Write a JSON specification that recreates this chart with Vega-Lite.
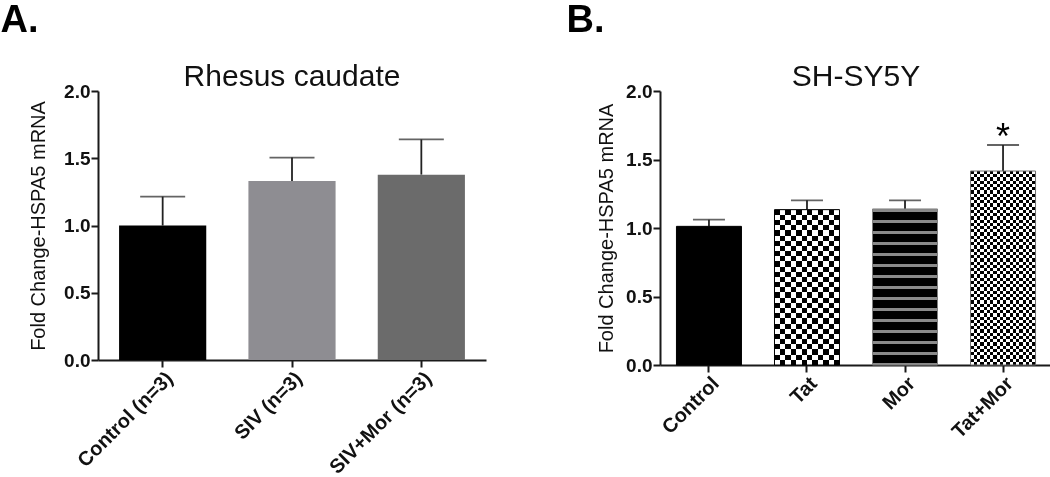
{
  "$schema": "https://vega.github.io/schema/vega-lite/v6.json",
  "background": "white",
  "padding": {"left": 0, "top": 2, "right": 0, "bottom": 0},
  "autosize": {"type": "pad"},
  "spacing": 80,
  "config": {
    "font": "Liberation Sans",
    "view": {"stroke": null},
    "axis": {
      "domainColor": "#1a1a1a", "domainWidth": 2, "tickColor": "#1a1a1a", "tickWidth": 2, "tickSize": 7,
      "labelFont": "Liberation Sans", "labelFontWeight": "bold", "labelFontSize": 19, "labelColor": "#111111",
      "titleFont": "Liberation Sans", "titleFontWeight": "normal", "titleFontSize": 20, "titleColor": "#111111",
      "grid": false
    },
    "axisX": {"labelFontSize": 20}
  },
  "datasets": {
    "a": [
      {"group": "Control (n=3)", "mean": 1.0, "upper": 1.215},
      {"group": "SIV (n=3)", "mean": 1.33, "upper": 1.505},
      {"group": "SIV+Mor (n=3)", "mean": 1.378, "upper": 1.64}
    ],
    "b": [
      {"group": "Control", "mean": 1.012, "upper": 1.061, "sig": ""},
      {"group": "Tat", "mean": 1.134, "upper": 1.202, "sig": ""},
      {"group": "Mor", "mean": 1.139, "upper": 1.202, "sig": ""},
      {"group": "Tat+Mor", "mean": 1.416, "upper": 1.606, "sig": "*"}
    ]
  },
  "hconcat": [
    {
      "title": {"text": "A.", "anchor": "start", "frame": "bounds", "dx": -28, "fontSize": 38, "fontWeight": "bold", "baseline": "alphabetic", "offset": -8, "color": "#000000", "font": "Liberation Sans"},
      "vconcat": [
        {
          "title": {"text": "Rhesus caudate", "anchor": "middle", "frame": "group", "fontSize": 30, "fontWeight": "normal", "baseline": "alphabetic", "offset": -34, "color": "#111111", "font": "Liberation Sans"},
          "width": 388,
          "height": 269,
          "data": {"name": "a"},
          "encoding": {
            "x": {"field": "group", "type": "nominal", "scale": {"domain": ["Control (n=3)", "SIV (n=3)", "SIV+Mor (n=3)"], "paddingInner": 0.326, "paddingOuter": 0.163}, "axis": {"title": null, "labelAngle": -45, "labelPadding": 1}},
            "y": {"field": "mean", "type": "quantitative", "scale": {"domain": [0, 2], "nice": false}, "axis": {"values": [0, 0.5, 1, 1.5, 2], "format": ".1f", "title": "Fold Change-HSPA5 mRNA", "titlePadding": 15, "labelPadding": 1}}
          },
          "layer": [
            {"mark": {"type": "rule", "color": "#222222", "strokeWidth": 1.8}, "encoding": {"y2": {"field": "upper"}}},
            {"mark": {"type": "tick", "orient": "horizontal", "size": 45, "thickness": 1.8, "color": "#222222"},
             "encoding": {"y": {"field": "upper", "type": "quantitative", "scale": {"domain": [0, 2], "nice": false}, "axis": {"values": [0, 0.5, 1, 1.5, 2], "format": ".1f", "title": "Fold Change-HSPA5 mRNA", "titlePadding": 15, "labelPadding": 1}}}},
            {"mark": {"type": "bar"}, "encoding": {"color": {"field": "group", "type": "nominal", "scale": {"domain": ["Control (n=3)", "SIV (n=3)", "SIV+Mor (n=3)"], "range": ["#000000", "#8e8d92", "#6b6b6b"]}, "legend": null}}}
          ]
        }
      ]
    },
    {
      "title": {"text": "B.", "anchor": "start", "frame": "bounds", "dx": -30, "fontSize": 38, "fontWeight": "bold", "baseline": "alphabetic", "offset": -8, "color": "#000000", "font": "Liberation Sans"},
      "vconcat": [
        {
          "title": {"text": "SH-SY5Y", "anchor": "middle", "frame": "group", "fontSize": 30, "fontWeight": "normal", "baseline": "alphabetic", "offset": -34, "color": "#111111", "font": "Liberation Sans"},
          "width": 392,
          "height": 274,
          "data": {"name": "b"},
          "encoding": {
            "x": {"field": "group", "type": "nominal", "scale": {"domain": ["Control", "Tat", "Mor", "Tat+Mor"], "paddingInner": 0.337, "paddingOuter": 0.168}, "axis": {"title": null, "labelAngle": -45, "labelPadding": 1}},
            "y": {"field": "mean", "type": "quantitative", "scale": {"domain": [0, 2], "nice": false}, "axis": {"values": [0, 0.5, 1, 1.5, 2], "format": ".1f", "title": "Fold Change-HSPA5 mRNA", "titlePadding": 9, "labelPadding": 1}}
          },
          "layer": [
            {"mark": {"type": "rule", "color": "#222222", "strokeWidth": 1.8}, "encoding": {"y2": {"field": "upper"}}},
            {"mark": {"type": "tick", "orient": "horizontal", "size": 32, "thickness": 1.8, "color": "#222222"},
             "encoding": {"y": {"field": "upper", "type": "quantitative", "scale": {"domain": [0, 2], "nice": false}, "axis": {"values": [0, 0.5, 1, 1.5, 2], "format": ".1f", "title": "Fold Change-HSPA5 mRNA", "titlePadding": 9, "labelPadding": 1}}}},
            {"transform": [{"filter": "datum.group === 'Control'"}], "mark": {"type": "bar", "color": "#000000"}},
            {"transform": [{"filter": "datum.group === 'Tat'"}], "mark": {"type": "bar", "color": {"gradient": "linear", "x1": 0, "y1": 0, "x2": 1, "y2": 0, "stops": [
              {"offset":0,"color":"#fff"},{"offset":0.0833,"color":"#fff"},{"offset":0.0833,"color":"#000"},{"offset":0.1667,"color":"#000"},{"offset":0.1667,"color":"#fff"},{"offset":0.25,"color":"#fff"},{"offset":0.25,"color":"#000"},{"offset":0.3333,"color":"#000"},{"offset":0.3333,"color":"#fff"},{"offset":0.4167,"color":"#fff"},{"offset":0.4167,"color":"#000"},{"offset":0.5,"color":"#000"},{"offset":0.5,"color":"#fff"},{"offset":0.5833,"color":"#fff"},{"offset":0.5833,"color":"#000"},{"offset":0.6667,"color":"#000"},{"offset":0.6667,"color":"#fff"},{"offset":0.75,"color":"#fff"},{"offset":0.75,"color":"#000"},{"offset":0.8333,"color":"#000"},{"offset":0.8333,"color":"#fff"},{"offset":0.9167,"color":"#fff"},{"offset":0.9167,"color":"#000"},{"offset":1,"color":"#000"}
            ]}}},
            {"transform": [{"filter": "datum.group === 'Tat'"}], "mark": {"type": "bar", "blend": "difference", "color": {"gradient": "linear", "x1": 0, "y1": 0, "x2": 0, "y2": 1, "stops": [
              {"offset":0,"color":"#fff"},{"offset":0.0333,"color":"#fff"},{"offset":0.0333,"color":"#000"},{"offset":0.0667,"color":"#000"},{"offset":0.0667,"color":"#fff"},{"offset":0.1,"color":"#fff"},{"offset":0.1,"color":"#000"},{"offset":0.1333,"color":"#000"},{"offset":0.1333,"color":"#fff"},{"offset":0.1667,"color":"#fff"},{"offset":0.1667,"color":"#000"},{"offset":0.2,"color":"#000"},{"offset":0.2,"color":"#fff"},{"offset":0.2333,"color":"#fff"},{"offset":0.2333,"color":"#000"},{"offset":0.2667,"color":"#000"},{"offset":0.2667,"color":"#fff"},{"offset":0.3,"color":"#fff"},{"offset":0.3,"color":"#000"},{"offset":0.3333,"color":"#000"},{"offset":0.3333,"color":"#fff"},{"offset":0.3667,"color":"#fff"},{"offset":0.3667,"color":"#000"},{"offset":0.4,"color":"#000"},{"offset":0.4,"color":"#fff"},{"offset":0.4333,"color":"#fff"},{"offset":0.4333,"color":"#000"},{"offset":0.4667,"color":"#000"},{"offset":0.4667,"color":"#fff"},{"offset":0.5,"color":"#fff"},{"offset":0.5,"color":"#000"},{"offset":0.5333,"color":"#000"},{"offset":0.5333,"color":"#fff"},{"offset":0.5667,"color":"#fff"},{"offset":0.5667,"color":"#000"},{"offset":0.6,"color":"#000"},{"offset":0.6,"color":"#fff"},{"offset":0.6333,"color":"#fff"},{"offset":0.6333,"color":"#000"},{"offset":0.6667,"color":"#000"},{"offset":0.6667,"color":"#fff"},{"offset":0.7,"color":"#fff"},{"offset":0.7,"color":"#000"},{"offset":0.7333,"color":"#000"},{"offset":0.7333,"color":"#fff"},{"offset":0.7667,"color":"#fff"},{"offset":0.7667,"color":"#000"},{"offset":0.8,"color":"#000"},{"offset":0.8,"color":"#fff"},{"offset":0.8333,"color":"#fff"},{"offset":0.8333,"color":"#000"},{"offset":0.8667,"color":"#000"},{"offset":0.8667,"color":"#fff"},{"offset":0.9,"color":"#fff"},{"offset":0.9,"color":"#000"},{"offset":0.9333,"color":"#000"},{"offset":0.9333,"color":"#fff"},{"offset":0.9667,"color":"#fff"},{"offset":0.9667,"color":"#000"},{"offset":1,"color":"#000"}
            ]}}},
            {"transform": [{"filter": "datum.group === 'Mor'"}], "mark": {"type": "bar", "color": {"gradient": "linear", "x1": 0, "y1": 0, "x2": 0, "y2": 1, "stops": [
              {"offset":0,"color":"#8a8a8a"},{"offset":0.0192,"color":"#8a8a8a"},{"offset":0.0192,"color":"#000"},{"offset":0.0705,"color":"#000"},{"offset":0.0705,"color":"#8a8a8a"},{"offset":0.0897,"color":"#8a8a8a"},{"offset":0.0897,"color":"#000"},{"offset":0.141,"color":"#000"},{"offset":0.141,"color":"#8a8a8a"},{"offset":0.1603,"color":"#8a8a8a"},{"offset":0.1603,"color":"#000"},{"offset":0.2115,"color":"#000"},{"offset":0.2115,"color":"#8a8a8a"},{"offset":0.2308,"color":"#8a8a8a"},{"offset":0.2308,"color":"#000"},{"offset":0.2821,"color":"#000"},{"offset":0.2821,"color":"#8a8a8a"},{"offset":0.3013,"color":"#8a8a8a"},{"offset":0.3013,"color":"#000"},{"offset":0.3526,"color":"#000"},{"offset":0.3526,"color":"#8a8a8a"},{"offset":0.3718,"color":"#8a8a8a"},{"offset":0.3718,"color":"#000"},{"offset":0.4231,"color":"#000"},{"offset":0.4231,"color":"#8a8a8a"},{"offset":0.4423,"color":"#8a8a8a"},{"offset":0.4423,"color":"#000"},{"offset":0.4936,"color":"#000"},{"offset":0.4936,"color":"#8a8a8a"},{"offset":0.5128,"color":"#8a8a8a"},{"offset":0.5128,"color":"#000"},{"offset":0.5641,"color":"#000"},{"offset":0.5641,"color":"#8a8a8a"},{"offset":0.5833,"color":"#8a8a8a"},{"offset":0.5833,"color":"#000"},{"offset":0.6346,"color":"#000"},{"offset":0.6346,"color":"#8a8a8a"},{"offset":0.6538,"color":"#8a8a8a"},{"offset":0.6538,"color":"#000"},{"offset":0.7051,"color":"#000"},{"offset":0.7051,"color":"#8a8a8a"},{"offset":0.7244,"color":"#8a8a8a"},{"offset":0.7244,"color":"#000"},{"offset":0.7756,"color":"#000"},{"offset":0.7756,"color":"#8a8a8a"},{"offset":0.7949,"color":"#8a8a8a"},{"offset":0.7949,"color":"#000"},{"offset":0.8462,"color":"#000"},{"offset":0.8462,"color":"#8a8a8a"},{"offset":0.8654,"color":"#8a8a8a"},{"offset":0.8654,"color":"#000"},{"offset":0.9167,"color":"#000"},{"offset":0.9167,"color":"#8a8a8a"},{"offset":0.9359,"color":"#8a8a8a"},{"offset":0.9359,"color":"#000"},{"offset":0.9872,"color":"#000"},{"offset":0.9872,"color":"#8a8a8a"},{"offset":1,"color":"#8a8a8a"}
            ]}}},
            {"transform": [{"filter": "datum.group === 'Tat+Mor'"}], "mark": {"type": "bar", "color": {"gradient": "linear", "x1": 0, "y1": 0, "x2": 1, "y2": 0, "stops": [
              {"offset":0,"color":"#fff"},{"offset":0.05,"color":"#fff"},{"offset":0.05,"color":"#000"},{"offset":0.1,"color":"#000"},{"offset":0.1,"color":"#fff"},{"offset":0.15,"color":"#fff"},{"offset":0.15,"color":"#000"},{"offset":0.2,"color":"#000"},{"offset":0.2,"color":"#fff"},{"offset":0.25,"color":"#fff"},{"offset":0.25,"color":"#000"},{"offset":0.3,"color":"#000"},{"offset":0.3,"color":"#fff"},{"offset":0.35,"color":"#fff"},{"offset":0.35,"color":"#000"},{"offset":0.4,"color":"#000"},{"offset":0.4,"color":"#fff"},{"offset":0.45,"color":"#fff"},{"offset":0.45,"color":"#000"},{"offset":0.5,"color":"#000"},{"offset":0.5,"color":"#fff"},{"offset":0.55,"color":"#fff"},{"offset":0.55,"color":"#000"},{"offset":0.6,"color":"#000"},{"offset":0.6,"color":"#fff"},{"offset":0.65,"color":"#fff"},{"offset":0.65,"color":"#000"},{"offset":0.7,"color":"#000"},{"offset":0.7,"color":"#fff"},{"offset":0.75,"color":"#fff"},{"offset":0.75,"color":"#000"},{"offset":0.8,"color":"#000"},{"offset":0.8,"color":"#fff"},{"offset":0.85,"color":"#fff"},{"offset":0.85,"color":"#000"},{"offset":0.9,"color":"#000"},{"offset":0.9,"color":"#fff"},{"offset":0.95,"color":"#fff"},{"offset":0.95,"color":"#000"},{"offset":1,"color":"#000"}
            ]}}},
            {"transform": [{"filter": "datum.group === 'Tat+Mor'"}], "mark": {"type": "bar", "blend": "difference", "color": {"gradient": "linear", "x1": 0, "y1": 0, "x2": 0, "y2": 1, "stops": [
              {"offset":0,"color":"#fff"},{"offset":0.0167,"color":"#fff"},{"offset":0.0167,"color":"#000"},{"offset":0.0333,"color":"#000"},{"offset":0.0333,"color":"#fff"},{"offset":0.05,"color":"#fff"},{"offset":0.05,"color":"#000"},{"offset":0.0667,"color":"#000"},{"offset":0.0667,"color":"#fff"},{"offset":0.0833,"color":"#fff"},{"offset":0.0833,"color":"#000"},{"offset":0.1,"color":"#000"},{"offset":0.1,"color":"#fff"},{"offset":0.1167,"color":"#fff"},{"offset":0.1167,"color":"#000"},{"offset":0.1333,"color":"#000"},{"offset":0.1333,"color":"#fff"},{"offset":0.15,"color":"#fff"},{"offset":0.15,"color":"#000"},{"offset":0.1667,"color":"#000"},{"offset":0.1667,"color":"#fff"},{"offset":0.1833,"color":"#fff"},{"offset":0.1833,"color":"#000"},{"offset":0.2,"color":"#000"},{"offset":0.2,"color":"#fff"},{"offset":0.2167,"color":"#fff"},{"offset":0.2167,"color":"#000"},{"offset":0.2333,"color":"#000"},{"offset":0.2333,"color":"#fff"},{"offset":0.25,"color":"#fff"},{"offset":0.25,"color":"#000"},{"offset":0.2667,"color":"#000"},{"offset":0.2667,"color":"#fff"},{"offset":0.2833,"color":"#fff"},{"offset":0.2833,"color":"#000"},{"offset":0.3,"color":"#000"},{"offset":0.3,"color":"#fff"},{"offset":0.3167,"color":"#fff"},{"offset":0.3167,"color":"#000"},{"offset":0.3333,"color":"#000"},{"offset":0.3333,"color":"#fff"},{"offset":0.35,"color":"#fff"},{"offset":0.35,"color":"#000"},{"offset":0.3667,"color":"#000"},{"offset":0.3667,"color":"#fff"},{"offset":0.3833,"color":"#fff"},{"offset":0.3833,"color":"#000"},{"offset":0.4,"color":"#000"},{"offset":0.4,"color":"#fff"},{"offset":0.4167,"color":"#fff"},{"offset":0.4167,"color":"#000"},{"offset":0.4333,"color":"#000"},{"offset":0.4333,"color":"#fff"},{"offset":0.45,"color":"#fff"},{"offset":0.45,"color":"#000"},{"offset":0.4667,"color":"#000"},{"offset":0.4667,"color":"#fff"},{"offset":0.4833,"color":"#fff"},{"offset":0.4833,"color":"#000"},{"offset":0.5,"color":"#000"},{"offset":0.5,"color":"#fff"},{"offset":0.5167,"color":"#fff"},{"offset":0.5167,"color":"#000"},{"offset":0.5333,"color":"#000"},{"offset":0.5333,"color":"#fff"},{"offset":0.55,"color":"#fff"},{"offset":0.55,"color":"#000"},{"offset":0.5667,"color":"#000"},{"offset":0.5667,"color":"#fff"},{"offset":0.5833,"color":"#fff"},{"offset":0.5833,"color":"#000"},{"offset":0.6,"color":"#000"},{"offset":0.6,"color":"#fff"},{"offset":0.6167,"color":"#fff"},{"offset":0.6167,"color":"#000"},{"offset":0.6333,"color":"#000"},{"offset":0.6333,"color":"#fff"},{"offset":0.65,"color":"#fff"},{"offset":0.65,"color":"#000"},{"offset":0.6667,"color":"#000"},{"offset":0.6667,"color":"#fff"},{"offset":0.6833,"color":"#fff"},{"offset":0.6833,"color":"#000"},{"offset":0.7,"color":"#000"},{"offset":0.7,"color":"#fff"},{"offset":0.7167,"color":"#fff"},{"offset":0.7167,"color":"#000"},{"offset":0.7333,"color":"#000"},{"offset":0.7333,"color":"#fff"},{"offset":0.75,"color":"#fff"},{"offset":0.75,"color":"#000"},{"offset":0.7667,"color":"#000"},{"offset":0.7667,"color":"#fff"},{"offset":0.7833,"color":"#fff"},{"offset":0.7833,"color":"#000"},{"offset":0.8,"color":"#000"},{"offset":0.8,"color":"#fff"},{"offset":0.8167,"color":"#fff"},{"offset":0.8167,"color":"#000"},{"offset":0.8333,"color":"#000"},{"offset":0.8333,"color":"#fff"},{"offset":0.85,"color":"#fff"},{"offset":0.85,"color":"#000"},{"offset":0.8667,"color":"#000"},{"offset":0.8667,"color":"#fff"},{"offset":0.8833,"color":"#fff"},{"offset":0.8833,"color":"#000"},{"offset":0.9,"color":"#000"},{"offset":0.9,"color":"#fff"},{"offset":0.9167,"color":"#fff"},{"offset":0.9167,"color":"#000"},{"offset":0.9333,"color":"#000"},{"offset":0.9333,"color":"#fff"},{"offset":0.95,"color":"#fff"},{"offset":0.95,"color":"#000"},{"offset":0.9667,"color":"#000"},{"offset":0.9667,"color":"#fff"},{"offset":0.9833,"color":"#fff"},{"offset":0.9833,"color":"#000"},{"offset":1,"color":"#000"}
            ]}}},
            {"mark": {"type": "bar", "fillOpacity": 0, "strokeWidth": 1}, "encoding": {"stroke": {"field": "group", "type": "nominal", "scale": {"domain": ["Control", "Tat", "Mor", "Tat+Mor"], "range": ["#000000", "#000000", "#808080", "#707070"]}, "legend": null}}},
            {"mark": {"type": "text", "fontSize": 36, "baseline": "alphabetic", "dy": 4, "color": "#000000", "font": "Liberation Sans"},
             "encoding": {"y": {"field": "upper", "type": "quantitative", "scale": {"domain": [0, 2], "nice": false}, "axis": {"values": [0, 0.5, 1, 1.5, 2], "format": ".1f", "title": "Fold Change-HSPA5 mRNA", "titlePadding": 9, "labelPadding": 1}}, "text": {"field": "sig"}}}
          ]
        }
      ]
    }
  ]
}
